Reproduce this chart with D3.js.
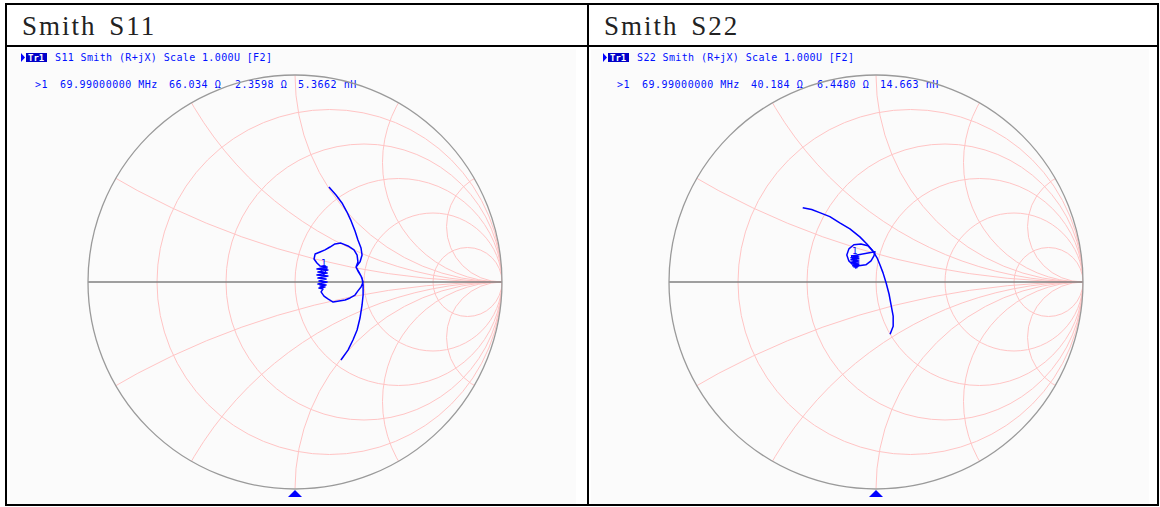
<!DOCTYPE html>
<html>
<head>
<meta charset="utf-8">
<script src="https://cdn.jsdelivr.net/npm/d3@7/dist/d3.min.js"></script>
<style>
body { margin: 0; background: #fff; }
svg { display: block; }
</style>
</head>
<body>
<svg id="chart"></svg>
<script>
// ---- data ----
var titles = ["Smith S11", "Smith S22"];
var traceNames = ["S11", "S22"];
var traceHead = "Smith (R+jX) Scale 1.000U [F2]";
var markerFreq = "69.99000000 MHz";
var markerR = [66.034, 40.184];     // ohm
var markerX = [2.3598, 6.4480];     // ohm
var markerL = ["5.3662", "14.663"]; // nH
var z0 = 50;

var resistanceGrid = [0.2, 0.5, 1, 2, 5];
var reactanceGrid = [0.268, 0.577, 1, 1.732, 3.732];

// reflection coefficient, real / imag
var s11Re = [0.164, 0.198, 0.227, 0.251, 0.271, 0.290, 0.304, 0.319, 0.324, 0.314, 0.295,
    0.304, 0.300, 0.285, 0.256, 0.222, 0.193, 0.169, 0.145, 0.121, 0.097, 0.092, 0.106,
    0.121, 0.155, 0.106, 0.159, 0.111, 0.155, 0.106, 0.159, 0.111, 0.150, 0.116, 0.155,
    0.111, 0.150, 0.121, 0.145, 0.116, 0.135,
    0.126, 0.140, 0.159, 0.184, 0.213, 0.242, 0.266, 0.290, 0.304, 0.319, 0.329, 0.319, 0.304, 0.295,
    0.309, 0.324, 0.329, 0.329, 0.324, 0.314, 0.300, 0.280, 0.256, 0.222];
var s11Im = [0.459, 0.420, 0.382, 0.338, 0.295, 0.246, 0.203, 0.164, 0.130, 0.097, 0.072,
    0.097, 0.130, 0.155, 0.174, 0.188, 0.184, 0.169, 0.155, 0.145, 0.135, 0.111, 0.092,
    0.077, 0.072, 0.063, 0.058, 0.048, 0.043, 0.034, 0.029, 0.019, 0.014, 0.005, 0.000,
    -0.010, -0.014, -0.019, -0.024, -0.029, -0.034,
    -0.048, -0.068, -0.082, -0.097, -0.092, -0.087, -0.077, -0.063, -0.043, -0.024, 0.000, 0.029, 0.053, 0.072,
    0.048, 0.019, -0.014, -0.063, -0.111, -0.174, -0.232, -0.280, -0.329, -0.377];

var s22Re = [-0.354, -0.311, -0.272, -0.223, -0.175, -0.126, -0.078, -0.044, -0.015, 0.005,
    0.019, 0.034, 0.049, 0.063, 0.073, 0.083, 0.083, 0.068];
var s22Im = [0.359, 0.350, 0.335, 0.316, 0.286, 0.257, 0.218, 0.184, 0.150, 0.117,
    0.083, 0.044, -0.005, -0.058, -0.112, -0.165, -0.214, -0.252];
var s22LoopRe = [-0.015, -0.039, -0.073, -0.107, -0.131, -0.141, -0.131, -0.112, -0.083, -0.049,
    -0.024, -0.010, -0.005, -0.117, -0.083, -0.121, -0.083, -0.121, -0.083, -0.117, -0.083,
    -0.117, -0.083, -0.112, -0.087, -0.107, -0.092, -0.102];
var s22LoopIm = [0.150, 0.175, 0.184, 0.180, 0.160, 0.131, 0.102, 0.083, 0.078, 0.083,
    0.102, 0.126, 0.146, 0.126, 0.121, 0.117, 0.112, 0.107, 0.102, 0.097, 0.092,
    0.087, 0.083, 0.078, 0.075, 0.073, 0.070, 0.068];

var W = 1160, H = 507;
var panelCx = [295, 876];
var cy = 282, R = 207;

var svg = d3.select("#chart").attr("width", W).attr("height", H);

function zip(re, im) {
    return re.map(function (d, i) { return [d, im[i]]; });
}
var traces = [
    [zip(s11Re, s11Im)],
    [zip(s22Re, s22Im), zip(s22LoopRe, s22LoopIm)]
];

// panel backgrounds (screen captures)
svg.append("rect").attr("x", 10).attr("y", 49).attr("width", 566).attr("height", 455).attr("fill", "#fbfbfb");
svg.append("rect").attr("x", 591).attr("y", 49).attr("width", 558).attr("height", 455).attr("fill", "#fbfbfb");

titles.forEach(function (t, p) {
    var cx = panelCx[p];
    var off = p * 582;
    var g = svg.append("g");

    g.append("text")
        .attr("x", 22 + off).attr("y", 35)
        .attr("font-family", "Liberation Serif, serif")
        .attr("font-size", 27)
        .attr("letter-spacing", 2)
        .attr("word-spacing", 4)
        .attr("fill", "#222")
        .text(t);

    var x = d3.scaleLinear().domain([-1, 1]).range([cx - R, cx + R]);
    var y = d3.scaleLinear().domain([-1, 1]).range([cy + R, cy - R]);
    var k = x(1) - x(0);

    // header lines
    g.append("path")
        .attr("d", "M" + (21 + off) + ",53L" + (25 + off) + ",57.5L" + (21 + off) + ",62Z")
        .attr("fill", "#0000ff");
    g.append("rect").attr("x", 26 + off).attr("y", 53).attr("width", 21).attr("height", 9).attr("fill", "#0000c8");
    g.append("text").attr("x", 28 + off).attr("y", 61)
        .attr("font-family", "DejaVu Sans Mono, monospace").attr("font-size", 9)
        .attr("font-weight", "bold").attr("fill", "#fff").text("Tr1");
    g.append("text").attr("x", 55 + off).attr("y", 61)
        .attr("font-family", "DejaVu Sans Mono, monospace").attr("font-size", 10)
        .attr("letter-spacing", 0.37).attr("fill", "#0010ff")
        .text(traceNames[p] + " " + traceHead);

    var line2 = [
        [35, ">1"],
        [60, markerFreq],
        [169, markerR[p].toFixed(3) + " Ω"],
        [235, markerX[p].toFixed(4) + " Ω"],
        [298, markerL[p] + " nH"]
    ];
    line2.forEach(function (s) {
        g.append("text").attr("x", s[0] + off).attr("y", 88)
            .attr("font-family", "DejaVu Sans Mono, monospace").attr("font-size", 10)
            .attr("letter-spacing", 0.5).attr("fill", "#0010ff")
            .text(s[1]);
    });

    // grid
    var clipId = "clip" + p;
    g.append("clipPath").attr("id", clipId)
        .append("circle").attr("cx", x(0)).attr("cy", y(0)).attr("r", k);
    var grid = g.append("g").attr("clip-path", "url(#" + clipId + ")")
        .attr("fill", "none").attr("stroke", "#ffc4c4").attr("stroke-width", 1);

    grid.selectAll("circle.r").data(resistanceGrid).enter().append("circle")
        .attr("cx", function (r) { return x(r / (r + 1)); })
        .attr("cy", y(0))
        .attr("r", function (r) { return k / (r + 1); });

    var arcs = [];
    reactanceGrid.forEach(function (v) { arcs.push(v); arcs.push(-v); });
    grid.selectAll("circle.x").data(arcs).enter().append("circle")
        .attr("cx", x(1))
        .attr("cy", function (v) { return y(1 / v); })
        .attr("r", function (v) { return k / Math.abs(v); });

    g.append("line")
        .attr("x1", x(-1)).attr("x2", x(1)).attr("y1", y(0)).attr("y2", y(0))
        .attr("stroke", "#808080").attr("stroke-width", 1.3);
    g.append("circle").attr("cx", x(0)).attr("cy", y(0)).attr("r", k)
        .attr("fill", "none").attr("stroke", "#9a9a9a").attr("stroke-width", 1.3);

    // trace
    var line = d3.line()
        .x(function (d) { return x(d[0]); })
        .y(function (d) { return y(d[1]); });
    g.selectAll("path.trace").data(traces[p]).enter().append("path")
        .attr("d", line)
        .attr("fill", "none").attr("stroke", "#0000ff").attr("stroke-width", 1.5)
        .attr("stroke-linejoin", "round");

    // marker 1
    var zr = markerR[p] / z0, zi = markerX[p] / z0;
    var den = (zr + 1) * (zr + 1) + zi * zi;
    var gr = ((zr - 1) * (zr + 1) + zi * zi) / den;
    var gi = (zi * (zr + 1) - (zr - 1) * zi) / den;
    var mx = x(gr), my = y(gi);
    g.append("path")
        .attr("d", "M" + (mx - 3.5) + "," + (my - 10) + "L" + (mx + 3.5) + "," + (my - 10) + "L" + mx + "," + (my - 3) + "Z")
        .attr("fill", "none").attr("stroke", "#0000ff").attr("stroke-width", 1);
    g.append("text").attr("x", mx).attr("y", my - 12)
        .attr("text-anchor", "middle")
        .attr("font-family", "DejaVu Sans Mono, monospace").attr("font-size", 9)
        .attr("fill", "#0000ff").text("1");

    // stimulus marker at the bottom
    g.append("path")
        .attr("d", "M" + x(0) + "," + (y(-1) + 1) + "L" + (x(0) + 7) + "," + (y(-1) + 8) + "L" + (x(0) - 7) + "," + (y(-1) + 8) + "Z")
        .attr("fill", "#0000ff");
});

// table lines
svg.append("rect").attr("x", 6).attr("y", 4).attr("width", 1152).attr("height", 501)
    .attr("fill", "none").attr("stroke", "#000").attr("stroke-width", 2);
svg.append("line").attr("x1", 6).attr("x2", 1158).attr("y1", 46).attr("y2", 46)
    .attr("stroke", "#000").attr("stroke-width", 2);
svg.append("line").attr("x1", 588).attr("x2", 588).attr("y1", 4).attr("y2", 505)
    .attr("stroke", "#000").attr("stroke-width", 2);
</script>
</body>
</html>
